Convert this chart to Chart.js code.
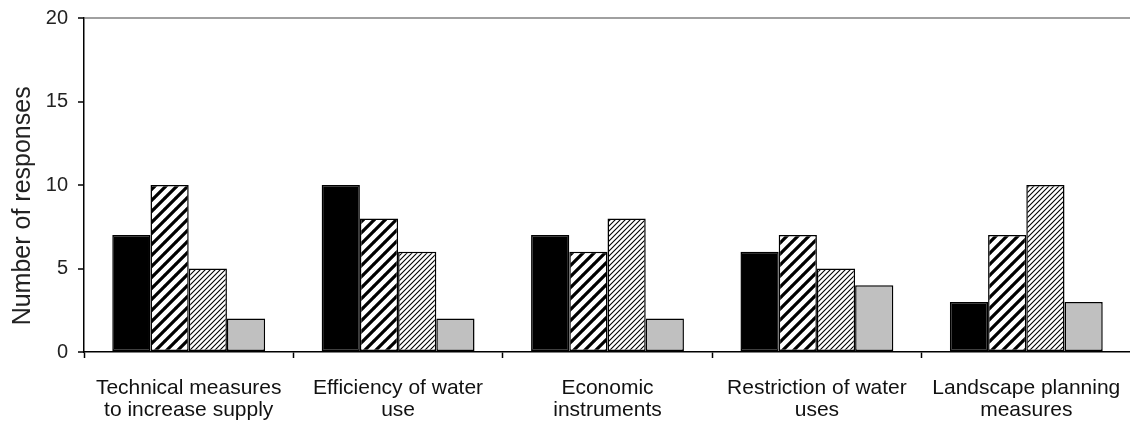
<!DOCTYPE html>
<html>
<head>
<meta charset="utf-8">
<script src="https://cdn.jsdelivr.net/npm/chart.js@4.4.1/dist/chart.umd.min.js"></script>
<style>
  html, body { margin: 0; padding: 0; background: #fff; overflow: hidden; }
  #wrap { position: relative; width: 1136px; height: 425px; }
</style>
</head>
<body>
<div id="wrap"><canvas id="c"></canvas></div>
<script>
const categories = [
  ['Technical measures', 'to increase supply'],
  ['Efficiency of water', 'use'],
  ['Economic', 'instruments'],
  ['Restriction of water', 'uses'],
  ['Landscape planning', 'measures'],
]
const solidValues = [7, 10, 7, 6, 3]
const wideHatchValues = [10, 8, 6, 7, 7]
const fineHatchValues = [5, 6, 8, 5, 10]
const greyValues = [2, 2, 2, 4, 3]
const yTicks = [0, 5, 10, 15, 20]

function hatch(size, width) {
  const t = document.createElement('canvas')
  t.width = size
  t.height = size
  const g = t.getContext('2d')
  g.fillStyle = '#fff'
  g.fillRect(0, 0, size, size)
  g.strokeStyle = '#000'
  g.lineWidth = width
  g.beginPath()
  for (const o of [-size, 0, size]) {
    g.moveTo(o - 1, size + 1)
    g.lineTo(o + size + 1, -1)
  }
  g.stroke()
  return document.getElementById('c').getContext('2d').createPattern(t, 'repeat')
}

const font = 'Arial, "Liberation Sans", sans-serif'
const bar = { borderColor: '#000', borderWidth: 1.5, borderSkipped: false }

new Chart(document.getElementById('c'), {
  type: 'bar',
  data: {
    labels: categories,
    datasets: [
      { label: 'a', data: solidValues, backgroundColor: '#000', ...bar },
      { label: 'b', data: wideHatchValues, backgroundColor: hatch(11, 3.2), ...bar },
      { label: 'c', data: fineHatchValues, backgroundColor: hatch(5, 1.1), ...bar },
      { label: 'd', data: greyValues, backgroundColor: '#c0c0c0', ...bar },
    ],
  },
  options: {
    responsive: true,
    maintainAspectRatio: false,
    animation: false,
    devicePixelRatio: 1,
    datasets: { bar: { categoryPercentage: 0.73, barPercentage: 1 } },
    layout: { padding: { top: 18, right: 5, bottom: 0, left: 0 } },
    scales: {
      x: {
        afterFit: s => { s.height = 73; s.paddingLeft = 0; s.paddingRight = 0 },
        grid: { drawOnChartArea: false, tickLength: 6, tickColor: '#000', tickWidth: 1.5 },
        border: { color: '#000', width: 1.5 },
        ticks: { color: '#111', padding: 19, maxRotation: 0, autoSkip: false, font: { family: font, size: 21, lineHeight: 1.05 } },
      },
      y: {
        min: 0,
        max: 20,
        afterFit: s => { s.width = 84; s.paddingTop = 0; s.paddingBottom = 0 },
        afterBuildTicks: s => { s.ticks = yTicks.map(v => ({ value: v })) },
        grid: {
          color: c => c.tick && c.tick.value === 20 ? '#a0a0a0' : 'rgba(0,0,0,0)',
          lineWidth: 2,
          tickLength: 6,
          tickColor: '#000',
          tickWidth: 1.5,
        },
        border: { color: '#000', width: 1.5 },
        ticks: { color: '#222', padding: 10, font: { family: font, size: 20 } },
        title: {
          display: true,
          // trailing spaces push the rotated title a little below the axis middle, as in the original
          text: 'Number of responses      ',
          color: '#222',
          padding: { top: 8, bottom: 0 },
          font: { family: font, size: 25 },
        },
      },
    },
    plugins: { legend: { display: false }, tooltip: { enabled: false } },
  },
})
</script>
</body>
</html>
